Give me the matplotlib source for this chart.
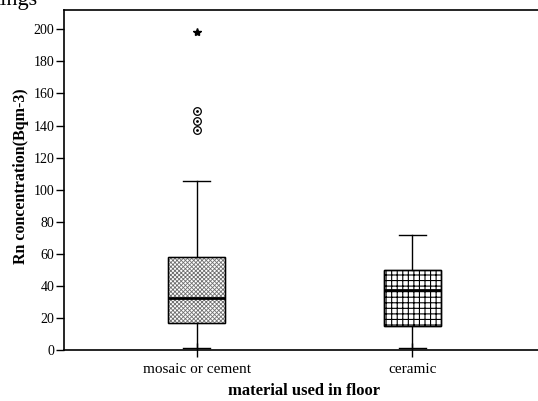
import matplotlib
matplotlib.use("Agg")
import matplotlib.pyplot as plt
from matplotlib.patches import PathPatch

categories = ["mosaic or cement", "ceramic"]
whislo = [1.0, 1.1]
q1 = [16.6, 14.7]
med = [32.2, 37.2]
q3 = [57.8, 49.7]
whishi = [105.3, 71.8]
outliers_mosaic = [149.0, 143.0, 137.0]
extremes_mosaic = [198.0]
yticks = list(range(0, 201, 20))

plt.rcParams['font.family'] = ['Liberation Serif', 'DejaVu Serif']
plt.rcParams['hatch.linewidth'] = 0.8

fig = plt.figure(figsize=(5.38, 4.01), dpi=100)
ax = fig.add_axes([0.119, 0.127, 0.893, 0.848])

stats = []
for i in range(len(categories)):
    stats.append(dict(label=categories[i], whislo=whislo[i], q1=q1[i], med=med[i],
                      q3=q3[i], whishi=whishi[i], fliers=[]))

positions = [1, 2]
bp = ax.bxp(stats, positions=positions, widths=0.263, patch_artist=True,
            showfliers=False, capwidths=0.125,
            boxprops=dict(linewidth=1.0, edgecolor='black'),
            whiskerprops=dict(linewidth=1.0, color='black'),
            capprops=dict(linewidth=1.0, color='black'),
            medianprops=dict(linewidth=2.0, color='black', zorder=4))
hatches = ['xxxxxxxx', '+++']
hatch_colors = ['#707070', 'black']
for patch, h, hc in zip(bp['boxes'], hatches, hatch_colors):
    patch.set_facecolor('white')
    patch.set_edgecolor(hc)
    patch.set_hatch(h)
    try:
        if h.startswith('x'):
            patch.set_hatch_linewidth(0.6)
    except Exception:
        pass
    ax.add_patch(PathPatch(patch.get_path(), fill=False, edgecolor='black',
                           linewidth=1.0, zorder=3))

ax.plot([positions[0]] * len(outliers_mosaic), outliers_mosaic, linestyle='none',
        marker='o', markersize=5.5, markerfacecolor='none', markeredgecolor='black',
        markeredgewidth=0.9)
ax.plot([positions[0]] * len(outliers_mosaic), outliers_mosaic, linestyle='none',
        marker='.', markersize=2, color='black')
ax.plot([positions[0]] * len(extremes_mosaic), extremes_mosaic, linestyle='none',
        marker='*', markersize=6, color='black')

ax.set_xlim(0.385, 2.613)
ax.set_ylim(0, 212)
ax.set_yticks(yticks)
ax.set_xticks(positions)
ax.set_xticklabels(categories, fontsize=11)
ax.tick_params(axis='y', direction='out', length=6, width=1, labelsize=10, pad=1)
ax.tick_params(axis='x', direction='inout', length=10, width=1, pad=4)
for s in ax.spines.values():
    s.set_linewidth(1.2)

ax.set_xlabel("material used in floor", fontsize=12, fontweight='bold', labelpad=5)
ax.set_ylabel("Rn concentration(Bqm-3)", fontsize=11.5, fontweight='bold', labelpad=3)
ax.yaxis.set_label_coords(-0.072, 0.512)

fig.text(-0.02, 1.0, "nings", fontsize=16, va='center', ha='left')

fig.savefig("out.png", dpi=100)
